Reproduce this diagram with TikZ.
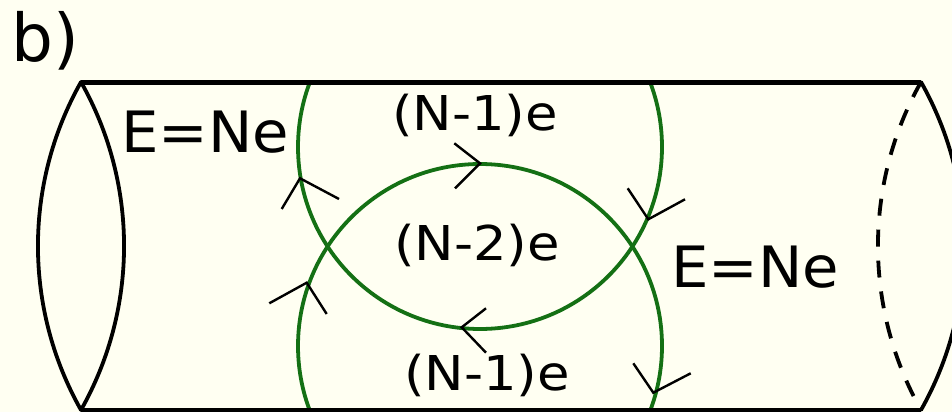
\documentclass[tikz,border=0pt]{standalone}
\usepackage{fontspec}
\setmainfont{DejaVu Sans}
\definecolor{bg}{RGB}{255,255,242}
\definecolor{loopgreen}{RGB}{20,112,20}
\begin{document}
\begin{tikzpicture}[x=1pt,y=-1pt,
  wall/.style={line width=3.8pt, line cap=round},
  loopline/.style={draw=loopgreen, line width=3.8pt},
  chev/.style={line width=2.4pt, line join=miter},
  lbl/.style={inner sep=0pt, anchor=base, font=\fontsize{48}{52}\selectfont, xscale=1.1},
  energy/.style={inner sep=0pt, anchor=base, font=\fontsize{57}{60}\selectfont, xscale=1.04}]
\fill[bg] (0,0) rectangle (952,412);
\useasboundingbox (0,0) rectangle (952,412);
% green loops, clipped to the cylinder
\begin{scope}
  \clip (0,82) rectangle (952,410);
  \draw[loopline] (480,147) circle[radius=182];
  \draw[loopline] (480,346) circle[radius=182];
\end{scope}
% cylinder
\draw[line width=5pt] (81,82) -- (921,82);
\draw[line width=4.5pt] (81,410) -- (921,410);
\draw[wall] (81,82) .. controls (23.6,183.8) and (23.6,308.2) .. (81,410);
\draw[wall] (81,82) .. controls (138.4,183.8) and (138.4,308.2) .. (81,410);
\draw[line width=3.8pt, dash pattern=on 17pt off 14pt] (921,82) .. controls (863.6,183.8) and (863.6,308.2) .. (921,410);
\begin{scope}
  \clip (0,0) rectangle (952,412);
  \draw[wall] (921,82) .. controls (978.4,183.8) and (978.4,308.2) .. (921,410);
\end{scope}
% arrowheads
\draw[chev] (281.7,209) -- (300,178.3) -- (339,199);
\draw[chev] (454.3,143.3) -- (480,163.3) -- (455,188.3);
\draw[chev] (627.7,188.3) -- (648.3,219.3) -- (685,199.3);
\draw[chev] (269.3,303.3) -- (306.7,282.7) -- (326.7,314);
\draw[chev] (486,308.3) -- (461.7,327.3) -- (486,352.7);
\draw[chev] (633.3,363.3) -- (653.3,392.7) -- (690.7,373.3);
% labels
\node[anchor=base west, inner sep=0pt, font=\fontsize{66}{70}\selectfont] (tag) at (11,62) {b)};
\node[energy] (eleft) at (205,152) {E=Ne};
\node[energy] (eright) at (755,287) {E=Ne};
\node[lbl] (ntop) at (475,130) {(N-1)e};
\node[lbl] (nmid) at (477,260) {(N-2)e};
\node[lbl] (nbot) at (487,390) {(N-1)e};
\end{tikzpicture}
\end{document}
